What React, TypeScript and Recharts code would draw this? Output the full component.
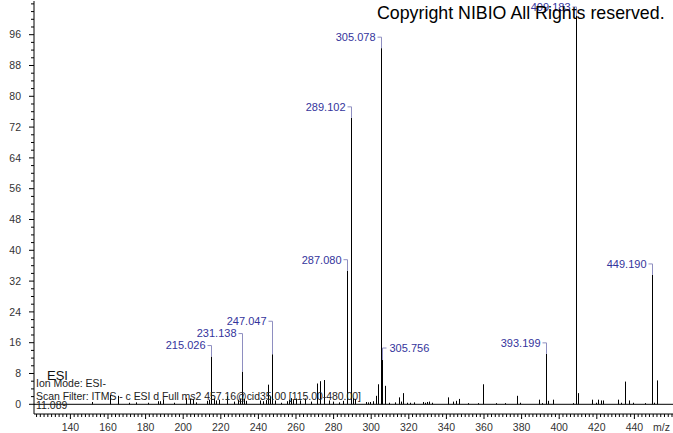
import React from "react";
import { BarChart, Bar, XAxis, YAxis, ReferenceLine, LabelList } from "recharts";

// m/z of each centroid stick
const mzValues = [
  151.8, 161.1, 165.6, 171.3, 175.0, 181.4, 186.6, 187.7, 189.3, 195.0,
  201.6, 203.7, 205.2, 207.0, 212.8, 213.9, 215.026, 216.3, 217.4, 219.0,
  223.5, 227.0, 229.4, 230.2, 231.138, 232.4, 233.6, 240.9, 242.6, 244.0,
  245.3, 246.2, 247.047, 248.8, 252.0, 255.1, 256.4, 257.4, 258.6, 260.0,
  262.0, 264.8, 268.0, 271.3, 272.8, 275.1, 277.7, 279.8, 283.0, 285.0,
  287.08, 289.102, 290.4, 291.5, 297.1, 298.5, 299.7, 301.1, 302.6, 303.8,
  305.078, 305.756, 307.2, 309.6, 312.7, 315.0, 315.9, 317.1, 319.2, 320.6,
  322.9, 327.4, 328.6, 329.9, 330.9, 332.2, 341.0, 343.4, 345.0, 346.9,
  351.7, 357.0, 359.3, 366.4, 371.2, 377.4, 379.0, 389.4, 390.7, 393.199,
  394.2, 396.9, 407.2, 409.183, 410.2, 417.3, 419.4, 420.8, 422.2, 423.5,
  431.4, 432.7, 435.2, 437.3, 439.1, 445.6, 449.19, 450.4, 452.2,
];

// relative abundance (%)
const abundance = [
  0.6, 2.4, 2.2, 0.4, 0.5, 0.4, 0.8, 0.8, 1.2, 0.4,
  1.6, 1.5, 1.4, 0.5, 0.9, 1.2, 12.4, 1.5, 1.0, 1.2,
  2.1, 0.7, 1.2, 1.5, 8.5, 1.4, 0.9, 1.0, 0.8, 1.1,
  5.1, 2.0, 13.0, 1.0, 0.4, 0.8, 1.2, 1.6, 1.1, 1.5,
  1.0, 1.5, 0.7, 5.4, 6.0, 6.3, 1.0, 0.7, 0.5, 0.9,
  34.7, 74.4, 1.6, 1.4, 0.6, 0.5, 0.6, 0.8, 2.2, 5.2,
  92.5, 11.5, 4.8, 0.4, 0.5, 1.8, 0.7, 2.9, 0.4, 0.4,
  0.5, 0.6, 0.4, 0.6, 0.7, 0.4, 1.8, 0.7, 0.9, 1.4,
  0.3, 0.3, 5.2, 0.3, 0.3, 2.2, 0.4, 1.2, 0.3, 13.1,
  0.9, 1.2, 0.3, 101, 2.9, 1.2, 0.4, 1.2, 1.0, 1.0,
  1.2, 0.4, 5.9, 1.0, 0.4, 0.3, 33.6, 0.4, 6.2,
];

const labelledPeaks = [215.026, 231.138, 247.047, 287.08, 289.102, 305.078, 305.756, 393.199, 409.183, 449.19];

const xLabelTicks = [140, 160, 180, 200, 220, 240, 260, 280, 300, 320, 340, 360, 380, 400, 420, 440];
const yLabelTicks = [0, 8, 16, 24, 32, 40, 48, 56, 64, 72, 80, 88, 96];

const xMinorTicks = Array.from({ length: 170 }, (_, i) => 122 + i * 2);
const yMinorTicks = Array.from({ length: 53 }, (_, i) => i * 2);

const data = mzValues.map((mz, i) => ({
  mz,
  value: abundance[i],
  label: labelledPeaks.includes(mz) ? mz.toFixed(3) : "",
}));

const FONT = "'Liberation Sans', Arial, sans-serif";
const LABEL_BLUE = "#34349c";
const BRACKET = "#8e8ec0";

// how far above the stick each annotation sits (px)
const labelLift: Record<string, number> = { "231.138": 38, "247.047": 33, "409.183": 8.5 };

const Stick = (props: any) => {
  const { x, y, width, height } = props;
  if (!height) return null;
  const cx = Math.round(x + width / 2) + 0.5;
  return <line x1={cx} x2={cx} y1={y} y2={y + height} stroke="#000" strokeWidth={1} />;
};

const PeakLabel = (props: any) => {
  const { x, y, width, value } = props;
  if (!value) return null;
  const bx = Math.round(x + width / 2) + 0.5;
  if (value === "305.756") {
    const ly = y - 12;
    return (
      <g>
        <path d={`M${bx},${y} V${ly} H${bx + 4}`} stroke={BRACKET} fill="none" />
        <text x={bx + 7} y={ly} dy="0.35em" fontSize={11} fill={LABEL_BLUE} fontFamily={FONT}>
          {value}
        </text>
      </g>
    );
  }
  const ly = y - (labelLift[value] ?? 11);
  return (
    <g>
      <path d={`M${bx - 4},${ly} H${bx} V${y}`} stroke={BRACKET} fill="none" />
      <text x={bx - 6} y={ly} dy="0.35em" textAnchor="end" fontSize={11} fill={LABEL_BLUE} fontFamily={FONT}>
        {value}
      </text>
    </g>
  );
};

const XTick = (props: any) => {
  const { x, y, payload } = props;
  const major = xLabelTicks.includes(payload.value);
  return (
    <g>
      <line x1={x} x2={x} y1={y} y2={y + (major ? 5 : 3)} stroke="#000" />
      {major && (
        <text x={x} y={y + 16.5} textAnchor="middle" fontSize={10.5} fill="#333" fontFamily={FONT}>
          {payload.value}
        </text>
      )}
    </g>
  );
};

const YTick = (props: any) => {
  const { x, y, payload } = props;
  const major = yLabelTicks.includes(payload.value);
  return (
    <g>
      <line x1={x} x2={x - (major ? 5 : 3)} y1={y} y2={y} stroke="#000" />
      {major && (
        <text x={x - 13} y={y} dy="0.35em" textAnchor="end" fontSize={10.5} fill="#333" fontFamily={FONT}>
          {payload.value}
        </text>
      )}
    </g>
  );
};

export default function App() {
  return (
    <div style={{ position: "absolute", left: 0, top: 0, width: 673, height: 433, background: "#fff", fontFamily: FONT }}>
      <BarChart width={673} height={433} data={data} margin={{ top: 1, right: 0, bottom: 0, left: 0 }}>
        <XAxis
          type="number"
          dataKey="mz"
          domain={[120.64, 460.53]}
          allowDataOverflow
          ticks={xMinorTicks}
          interval={0}
          height={19}
          tickSize={0}
          tickMargin={0}
          tickLine={false}
          tick={<XTick />}
          axisLine={{ stroke: "#000" }}
        />
        <YAxis
          type="number"
          domain={[-2.52, 104.75]}
          allowDataOverflow
          ticks={yMinorTicks}
          interval={0}
          width={34}
          tickSize={0}
          tickMargin={0}
          tickLine={false}
          tick={<YTick />}
          axisLine={{ stroke: "#000" }}
        />
        <ReferenceLine y={0} stroke="#000" />
        <Bar dataKey="value" barSize={1} shape={<Stick />} isAnimationActive={false}>
          <LabelList dataKey="label" content={<PeakLabel />} />
        </Bar>
      </BarChart>
      <svg width={673} height={433} style={{ position: "absolute", left: 0, top: 0, pointerEvents: "none" }}>
        <text x={377} y={19.3} fontSize={17.8} fill="#000" fontFamily={FONT}>
          Copyright NIBIO All Rights reserved.
        </text>
        <text x={47} y={380} fontSize={13} fill="#111" fontFamily={FONT}>
          ESI
        </text>
        <text x={36} y={386.5} fontSize={10.5} fill="#222" fontFamily={FONT}>
          Ion Mode: ESI-
        </text>
        <text x={36} y={400} fontSize={10.5} fill="#222" fontFamily={FONT} textLength={325} lengthAdjust="spacing">
          Scan Filter: ITMS - c ESI d Full ms2 457.16@cid35.00 [115.00-480.00]
        </text>
        <text x={36} y={409} fontSize={10.5} fill="#222" fontFamily={FONT}>
          11.089
        </text>
        <text x={653} y={430.5} fontSize={10.5} fill="#333" fontFamily={FONT}>
          m/z
        </text>
      </svg>
    </div>
  );
}
